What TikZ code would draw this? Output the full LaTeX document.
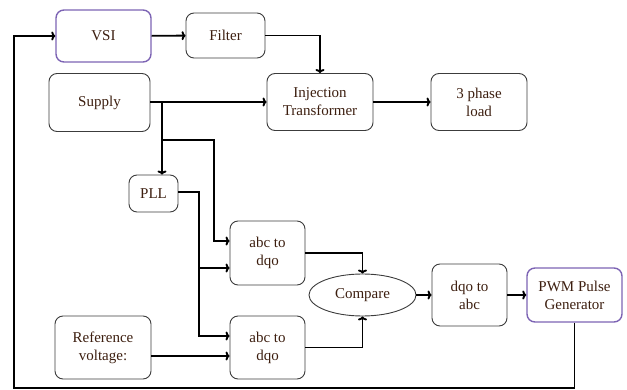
\documentclass[tikz,border=0pt]{standalone}
\usepackage{fontspec}
\setmainfont{Liberation Serif}
\usetikzlibrary{shapes.geometric,arrows.meta}

\definecolor{txtbrown}{RGB}{60,30,15}
\definecolor{boxgray}{RGB}{60,60,60}
\definecolor{vsipurple}{RGB}{125,100,180}

\tikzset{
  blk/.style={draw=boxgray, line width=0.9pt, rounded corners=8pt, align=center,
    inner sep=0pt, text=txtbrown, font=\fontsize{15}{18}\selectfont},
  pblk/.style={blk, draw=vsipurple, line width=1.4pt},
  oval/.style={draw=boxgray, line width=0.9pt, ellipse, inner sep=0pt,
    text=txtbrown, font=\fontsize{15}{18}\selectfont},
  arr/.style={-{To[length=4pt, width=9pt]}, line width=1.9pt, black}
}

\begin{document}
\begin{tikzpicture}[x=1pt, y=-1pt]
\useasboundingbox (0,0) rectangle (627,390);
%%   kw   (name)   (x, y)   {text}
    \node[pblk, minimum width=95pt, minimum height=52pt] (vsi) at (103.5, 36) {VSI};
    \node[blk, minimum width=79pt, minimum height=45pt] (filter) at (225.5, 35.5) {Filter};
    \node[blk, minimum width=101pt, minimum height=58pt] (supply) at (99.5, 102.5) {Supply};
    \node[blk, minimum width=106pt, minimum height=57pt] (inj) at (320, 102) {Injection\\Transformer};
    \node[blk, minimum width=96pt, minimum height=57pt] (load) at (479, 102) {3 phase\\load};
    \node[blk, minimum width=49pt, minimum height=37pt] (pll) at (153.5, 193.5) {PLL};
    \node[blk, minimum width=75pt, minimum height=64pt] (abct) at (267.5, 253) {abc to\\dqo};
    \node[blk, minimum width=75pt, minimum height=63pt] (abcb) at (267.5, 347.5) {abc to\\dqo};
    \node[blk, minimum width=96pt, minimum height=63pt] (ref) at (103, 347.5) {Reference\\voltage:};
    \node[oval, minimum width=107pt, minimum height=42pt] (cmp) at (362.5, 295) {Compare};
    \node[blk, minimum width=75pt, minimum height=62pt] (dqo) at (469.5, 295) {dqo to\\abc};
    \node[pblk, minimum width=95pt, minimum height=54pt] (pwm) at (574.5, 295) {PWM Pulse\\Generator};

    \coordinate (fb) at (14, 388);
    \coordinate (sp) at (162, 102);
    \coordinate (s2) at (162, 140);
    \coordinate (s3) at (214, 140);
    \coordinate (pl) at (199, 192);

    \draw[arr] (pwm.south) |- (fb) |- (vsi.west);
    \draw[arr] (vsi) -- (filter);
    \draw[arr] (filter.east) -| (inj.north);
    \draw[arr] (supply.east |- inj.west) -- (inj.west);
    \draw[arr] (inj) -- (load);
    \draw[arr] (sp) -- (sp |- pll.north);
    \draw[arr] (s2) -- (s3) |- ([yshift=12pt]abct.west);
    \draw[arr] (pll.east |- pl) -- (pl) |- ([yshift=11.5pt]abcb.west);
    \draw[arr] (pl |- 0,268) -- ([yshift=-15pt]abct.west);
    \draw[arr] ([yshift=-8.5pt]ref.east) -- ([yshift=-8.5pt]abcb.west);
    \draw[arr] (abct.east) -| (cmp.north);
    \draw[arr] (abcb.east) -| (cmp.south);
    \draw[arr] (cmp) -- (dqo);
    \draw[arr] (dqo) -- (pwm);
\end{tikzpicture}
\end{document}
